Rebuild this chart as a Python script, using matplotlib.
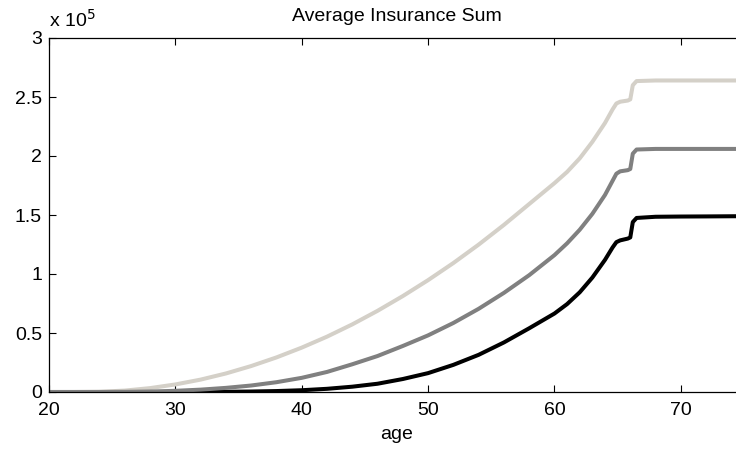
import matplotlib
matplotlib.use("Agg")
import matplotlib.pyplot as plt
from matplotlib.ticker import FuncFormatter

age = [20, 22, 24, 26, 28, 30, 32, 34, 36, 38, 40, 42, 44, 46, 48, 50,
       52, 54, 56, 58, 60, 61, 62, 63, 64, 64.6, 64.9, 65.2, 65.8, 66.0,
       66.2, 66.5, 68, 70, 72, 75]

# average insurance sum, three groups (light, mid, dark)
sum_light = [0, 0, 200, 1200, 3300, 6400, 10500, 15700, 22000, 29300, 37600,
             46900, 57300, 68800, 81300, 94800, 109300, 124900, 141600, 159300,
             177000, 186500, 198000, 212000, 228000, 239500, 244500, 246000,
             247000, 248000, 260000, 263500, 264000, 264000, 264000, 264000]
sum_mid = [0, 0, 0, 100, 400, 1000, 2000, 3500, 5500, 8300, 12000, 17000,
           23500, 30500, 39000, 48000, 58500, 70500, 84000, 99000, 116000,
           126000, 137500, 151000, 167000, 179000, 185000, 187000, 188000,
           189000, 202000, 205500, 206000, 206000, 206000, 206000]
sum_dark = [0, 0, 0, 0, 0, 0, 100, 200, 400, 800, 1500, 2700, 4500, 7000,
            11000, 16000, 23000, 31500, 42000, 54000, 66500, 74500, 84500,
            97000, 112000, 122500, 127000, 128500, 130000, 131000, 144000,
            147500, 148500, 148700, 148800, 149000]

x_ticks = [20, 30, 40, 50, 60, 70]
y_ticks = [0, 50000, 100000, 150000, 200000, 250000, 300000]

plt.rcParams['font.family'] = ['Liberation Sans', 'DejaVu Sans']

fig = plt.figure(figsize=(7.36, 4.54), dpi=100)
ax = fig.add_axes([49 / 736, 62 / 454, 695 / 736, 354 / 454])

lw = 2.9
ax.plot(age, sum_light, color='#d4d0c8', linewidth=lw, solid_joinstyle='round')
ax.plot(age, sum_dark, color='black', linewidth=lw, solid_joinstyle='round')
ax.plot(age, sum_mid, color='#808080', linewidth=lw, solid_joinstyle='round')

ax.set_xlim(20, 75)
ax.set_ylim(0, 300000)
ax.set_xticks(x_ticks)
ax.set_yticks(y_ticks)
ax.yaxis.set_major_formatter(FuncFormatter(lambda v, p: f"{v / 1e5:g}"))

ax.tick_params(direction='in', length=5, width=0.8, top=True, right=True,
               labelsize=14, colors='black')
ax.tick_params(axis='x', pad=7)
ax.tick_params(axis='y', pad=5)
for s in ax.spines.values():
    s.set_linewidth(0.9)

ax.set_xlabel('age', fontsize=14, labelpad=5)
ax.set_title('Average Insurance Sum', fontsize=14, pad=12)
ax.text(0.0, 1.02, r'x 10$^{5}$', transform=ax.transAxes, fontsize=14,
        ha='left', va='bottom')

fig.savefig('out.png', dpi=100)
